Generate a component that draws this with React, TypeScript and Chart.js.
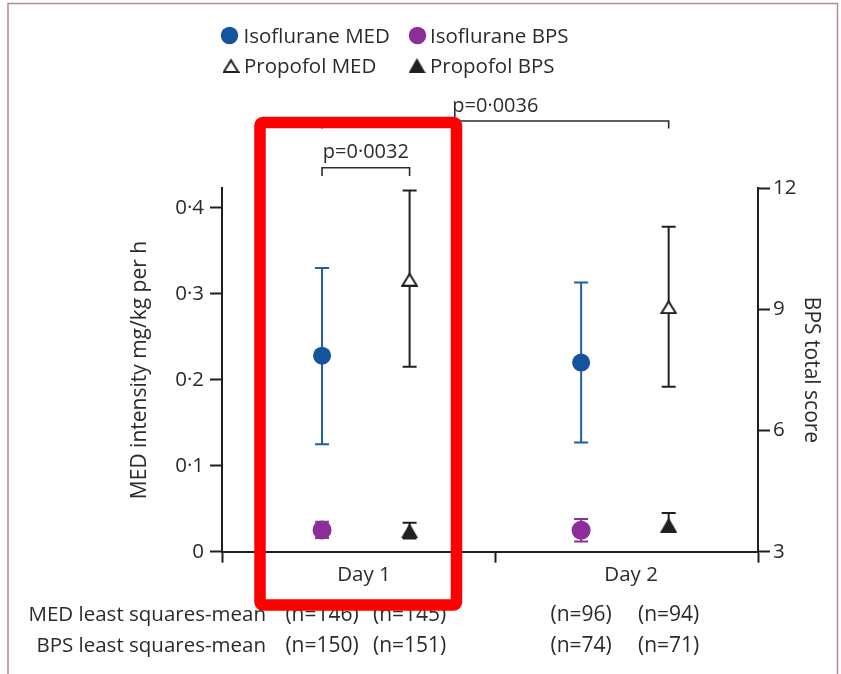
import React, { useEffect, useRef } from 'react';
import { Chart, registerables } from 'chart.js';

Chart.register(...registerables);

// ---------- data ----------
const days = ['Day 1', 'Day 2'];

const isoMedMean = [0.228, 0.220];
const isoMedLower = [0.125, 0.127];
const isoMedUpper = [0.330, 0.313];

const propMedMean = [0.317, 0.285];
const propMedLower = [0.215, 0.192];
const propMedUpper = [0.420, 0.378];

const isoBpsMean = [3.54, 3.53];
const isoBpsLower = [3.34, 3.25];
const isoBpsUpper = [3.74, 3.81];

const propBpsMean = [3.52, 3.66];
const propBpsLower = [3.33, 3.50];
const propBpsUpper = [3.72, 3.96];

const medNIso = [146, 96];
const medNProp = [145, 94];
const bpsNIso = [150, 74];
const bpsNProp = [151, 71];

const medTickLabels = ['0', '0·1', '0·2', '0·3', '0·4'];
const bpsTickLabels = ['3', '6', '9', '12'];

const pDay1 = 'p=0·0032';
const pAcross = 'p=0·0036';

const legendLabels = ['Isoflurane MED', 'Propofol MED', 'Isoflurane BPS', 'Propofol BPS'];
const rowLabels = ['MED least squares-mean', 'BPS least squares-mean'];

// ---------- layout / style ----------
const ISO_X = [1.12, 4.02];
const PROP_X = [2.1, 5.0];
const DAY_LABEL_X = [1.59, 4.58];
const DIVIDER_X = 3.06;
const X_MAX = 6;

const FONT = "'Open Sans', 'Noto Sans', sans-serif";
const AXIS = '#231f20';
const TEXT = '#2b2b2b';
const BLUE = '#14549c';
const BLUE_LINE = '#225d9f';
const PURPLE = '#8c2e98';
const BLACK = '#231f20';

function makeTriangle(filled: boolean): HTMLCanvasElement {
  const c = document.createElement('canvas');
  const W = 17;
  const H = 15;
  c.width = W;
  c.height = H;
  const ctx = c.getContext('2d')!;
  ctx.beginPath();
  if (filled) {
    ctx.moveTo(W / 2, 0);
    ctx.lineTo(W, H);
    ctx.lineTo(0, H);
    ctx.closePath();
    ctx.fillStyle = BLACK;
    ctx.fill();
  } else {
    ctx.moveTo(W / 2, 2.2);
    ctx.lineTo(W - 1.3, H - 1);
    ctx.lineTo(1.3, H - 1);
    ctx.closePath();
    ctx.fillStyle = '#ffffff';
    ctx.fill();
    ctx.lineWidth = 2;
    ctx.strokeStyle = BLACK;
    ctx.stroke();
  }
  return c;
}

const errorBarsPlugin = {
  id: 'errorBars',
  beforeDatasetsDraw(chart: any) {
    const ctx = chart.ctx;
    chart.data.datasets.forEach((ds: any, di: number) => {
      const meta = chart.getDatasetMeta(di);
      const yScale = chart.scales[ds.yAxisID];
      meta.data.forEach((pt: any, i: number) => {
        const x = pt.x;
        const yLo = yScale.getPixelForValue(ds.errLower[i]);
        const yHi = yScale.getPixelForValue(ds.errUpper[i]);
        ctx.save();
        ctx.strokeStyle = ds.errColor;
        ctx.lineWidth = 2;
        ctx.beginPath();
        ctx.moveTo(x, yLo);
        ctx.lineTo(x, yHi);
        ctx.moveTo(x - 7, yLo);
        ctx.lineTo(x + 7, yLo);
        ctx.moveTo(x - 7, yHi);
        ctx.lineTo(x + 7, yHi);
        ctx.stroke();
        ctx.restore();
      });
    });
  },
};

const annotationsPlugin = {
  id: 'annotations',
  afterDraw(chart: any) {
    const ctx = chart.ctx;
    const xs = chart.scales.x;
    const ds = chart.data.datasets;

    // legend
    const legendPos = [
      { mx: 229.5, my: 35.5, tx: 243.5, ty: 43.3 },
      { mx: 231, my: 65.5, tx: 244, ty: 72.7 },
      { mx: 417.5, my: 35.5, tx: 430, ty: 43.3 },
      { mx: 417, my: 65.5, tx: 430, ty: 72.7 },
    ];
    ctx.save();
    ctx.font = `20.5px ${FONT}`;
    ctx.textBaseline = 'alphabetic';
    ctx.textAlign = 'left';
    ds.forEach((d: any, i: number) => {
      const p = legendPos[i];
      if (d.pointStyle === 'circle') {
        ctx.beginPath();
        ctx.arc(p.mx, p.my, 8.7, 0, Math.PI * 2);
        ctx.fillStyle = d.backgroundColor;
        ctx.fill();
      } else {
        const img = d.pointStyle as HTMLCanvasElement;
        ctx.drawImage(img, p.mx - img.width / 2, p.my - img.height / 2);
      }
      ctx.fillStyle = TEXT;
      ctx.fillText(legendLabels[i], p.tx, p.ty);
    });
    ctx.restore();

    // brackets
    const drawBracket = (x1: number, x2: number, y: number, yEnd: number, label: string, ty: number) => {
      ctx.save();
      ctx.strokeStyle = '#2b2b2b';
      ctx.lineWidth = 1.6;
      ctx.beginPath();
      ctx.moveTo(x1, yEnd);
      ctx.lineTo(x1, y);
      ctx.lineTo(x2, y);
      ctx.lineTo(x2, yEnd);
      ctx.stroke();
      ctx.font = `20px ${FONT}`;
      ctx.fillStyle = TEXT;
      ctx.textAlign = 'center';
      ctx.textBaseline = 'alphabetic';
      ctx.fillText(label, (x1 + x2) / 2, ty);
      ctx.restore();
    };
    const xIso1 = xs.getPixelForValue(ISO_X[0]);
    const xProp1 = xs.getPixelForValue(PROP_X[0]);
    const xProp2 = xs.getPixelForValue(PROP_X[1]);
    drawBracket(xIso1, xProp1, 167.7, 176, pDay1, 158.3);
    drawBracket(xIso1, xProp2, 121, 128.5, pAcross, 111.7);

    // sample size rows
    ctx.save();
    ctx.font = `20.5px ${FONT}`;
    ctx.fillStyle = TEXT;
    ctx.textBaseline = 'alphabetic';
    ctx.textAlign = 'right';
    ctx.fillText(rowLabels[0], 266, 621);
    ctx.fillText(rowLabels[1], 266, 651.5);
    ctx.font = `21px ${FONT}`;
    ctx.textAlign = 'center';
    for (let i = 0; i < days.length; i++) {
      const xi = xs.getPixelForValue(ISO_X[i]);
      const xp = xs.getPixelForValue(PROP_X[i]);
      ctx.fillText(`(n=${medNIso[i]})`, xi, 621);
      ctx.fillText(`(n=${medNProp[i]})`, xp, 621);
      ctx.fillText(`(n=${bpsNIso[i]})`, xi, 651.5);
      ctx.fillText(`(n=${bpsNProp[i]})`, xp, 651.5);
    }
    ctx.restore();

    // red highlight box
    ctx.save();
    ctx.strokeStyle = '#ff0000';
    ctx.lineWidth = 11.5;
    ctx.lineJoin = 'round';
    ctx.beginPath();
    if ((ctx as any).roundRect) {
      (ctx as any).roundRect(260, 122.5, 196.5, 482.5, 3);
    } else {
      ctx.rect(260, 122.5, 196.5, 482.5);
    }
    ctx.stroke();
    ctx.restore();

    // outer frame
    ctx.save();
    ctx.strokeStyle = '#b5879a';
    ctx.lineWidth = 1.5;
    ctx.beginPath();
    ctx.moveTo(8, 674);
    ctx.lineTo(8, 3.5);
    ctx.lineTo(837.5, 3.5);
    ctx.lineTo(837.5, 674);
    ctx.stroke();
    ctx.restore();
  },
};

export default function App() {
  const ref = useRef<HTMLCanvasElement>(null);

  useEffect(() => {
    const canvas = ref.current!;
    const openTri = makeTriangle(false);
    const solidTri = makeTriangle(true);

    const chart = new Chart(canvas, {
      type: 'scatter',
      data: {
        datasets: [
          {
            label: legendLabels[0],
            data: days.map((_, i) => ({ x: ISO_X[i], y: isoMedMean[i] })),
            yAxisID: 'yMed',
            pointStyle: 'circle',
            pointRadius: 9,
            backgroundColor: BLUE,
            borderWidth: 0,
            errLower: isoMedLower,
            errUpper: isoMedUpper,
            errColor: BLUE_LINE,
          } as any,
          {
            label: legendLabels[1],
            data: days.map((_, i) => ({ x: PROP_X[i], y: propMedMean[i] })),
            yAxisID: 'yMed',
            pointStyle: openTri,
            pointRadius: 8,
            backgroundColor: '#ffffff',
            borderWidth: 0,
            errLower: propMedLower,
            errUpper: propMedUpper,
            errColor: BLACK,
          } as any,
          {
            label: legendLabels[2],
            data: days.map((_, i) => ({ x: ISO_X[i], y: isoBpsMean[i] })),
            yAxisID: 'yBps',
            pointStyle: 'circle',
            pointRadius: 9.5,
            backgroundColor: PURPLE,
            borderWidth: 0,
            errLower: isoBpsLower,
            errUpper: isoBpsUpper,
            errColor: PURPLE,
          } as any,
          {
            label: legendLabels[3],
            data: days.map((_, i) => ({ x: PROP_X[i], y: propBpsMean[i] })),
            yAxisID: 'yBps',
            pointStyle: solidTri,
            pointRadius: 8,
            backgroundColor: BLACK,
            borderWidth: 0,
            errLower: propBpsLower,
            errUpper: propBpsUpper,
            errColor: BLACK,
          } as any,
        ],
      },
      options: {
        responsive: false,
        animation: false,
        events: [],
        layout: { padding: { left: 127, right: 17, top: 188.3, bottom: 0 } },
        font: { family: FONT } as any,
        plugins: {
          legend: { display: false },
          tooltip: { enabled: false },
        },
        scales: {
          x: {
            type: 'linear',
            position: 'bottom',
            min: 0,
            max: X_MAX,
            afterBuildTicks: (axis: any) => {
              axis.ticks = [0, DAY_LABEL_X[0], DIVIDER_X, DAY_LABEL_X[1], X_MAX].map((v) => ({ value: v }));
            },
            afterFit: (s: any) => {
              s.height = 122.3;
            },
            ticks: {
              autoSkip: false,
              maxRotation: 0,
              padding: 0,
              color: TEXT,
              font: { family: FONT, size: 20.5 },
              callback: (_v: any, i: number) => (i === 1 ? days[0] : i === 3 ? days[1] : ''),
            },
            grid: {
              drawOnChartArea: false,
              drawTicks: true,
              tickLength: 11,
              tickWidth: 2,
              tickColor: (c: any) => (c.index % 2 === 0 ? AXIS : 'rgba(0,0,0,0)'),
            },
            border: { display: true, color: AXIS, width: 2 },
          },
          yMed: {
            type: 'linear',
            position: 'left',
            min: 0,
            max: 0.4227,
            afterFit: (s: any) => {
              s.width = 95;
            },
            ticks: {
              stepSize: 0.1,
              includeBounds: false,
              padding: 6,
              color: TEXT,
              font: { family: FONT, size: 20.5 },
              callback: (_v: any, i: number) => medTickLabels[i],
            },
            grid: {
              drawOnChartArea: false,
              drawTicks: true,
              tickLength: 12,
              tickWidth: 2,
              tickColor: AXIS,
            },
            border: { display: true, color: AXIS, width: 2 },
            title: {
              display: true,
              text: 'MED intensity mg/kg per h',
              color: TEXT,
              font: { family: FONT, size: 21 },
              padding: 0,
            },
          },
          yBps: {
            type: 'linear',
            position: 'right',
            min: 3,
            max: 12,
            afterFit: (s: any) => {
              s.width = 66;
            },
            ticks: {
              stepSize: 3,
              includeBounds: false,
              padding: 3,
              color: TEXT,
              font: { family: FONT, size: 20.5 },
              callback: (_v: any, i: number) => bpsTickLabels[i],
            },
            grid: {
              drawOnChartArea: false,
              drawTicks: true,
              tickLength: 12,
              tickWidth: 2,
              tickColor: AXIS,
            },
            border: { display: true, color: AXIS, width: 2 },
            title: {
              display: true,
              text: 'BPS total score',
              color: TEXT,
              font: { family: FONT, size: 21 },
              padding: 0,
            },
          },
        },
      } as any,
      plugins: [errorBarsPlugin, annotationsPlugin],
    });

    return () => chart.destroy();
  }, []);

  return (
    <div style={{ position: 'absolute', left: 0, top: 0, width: 841, height: 674, background: '#ffffff' }}>
      <canvas ref={ref} width={841} height={674} style={{ display: 'block', width: 841, height: 674 }} />
    </div>
  );
}
